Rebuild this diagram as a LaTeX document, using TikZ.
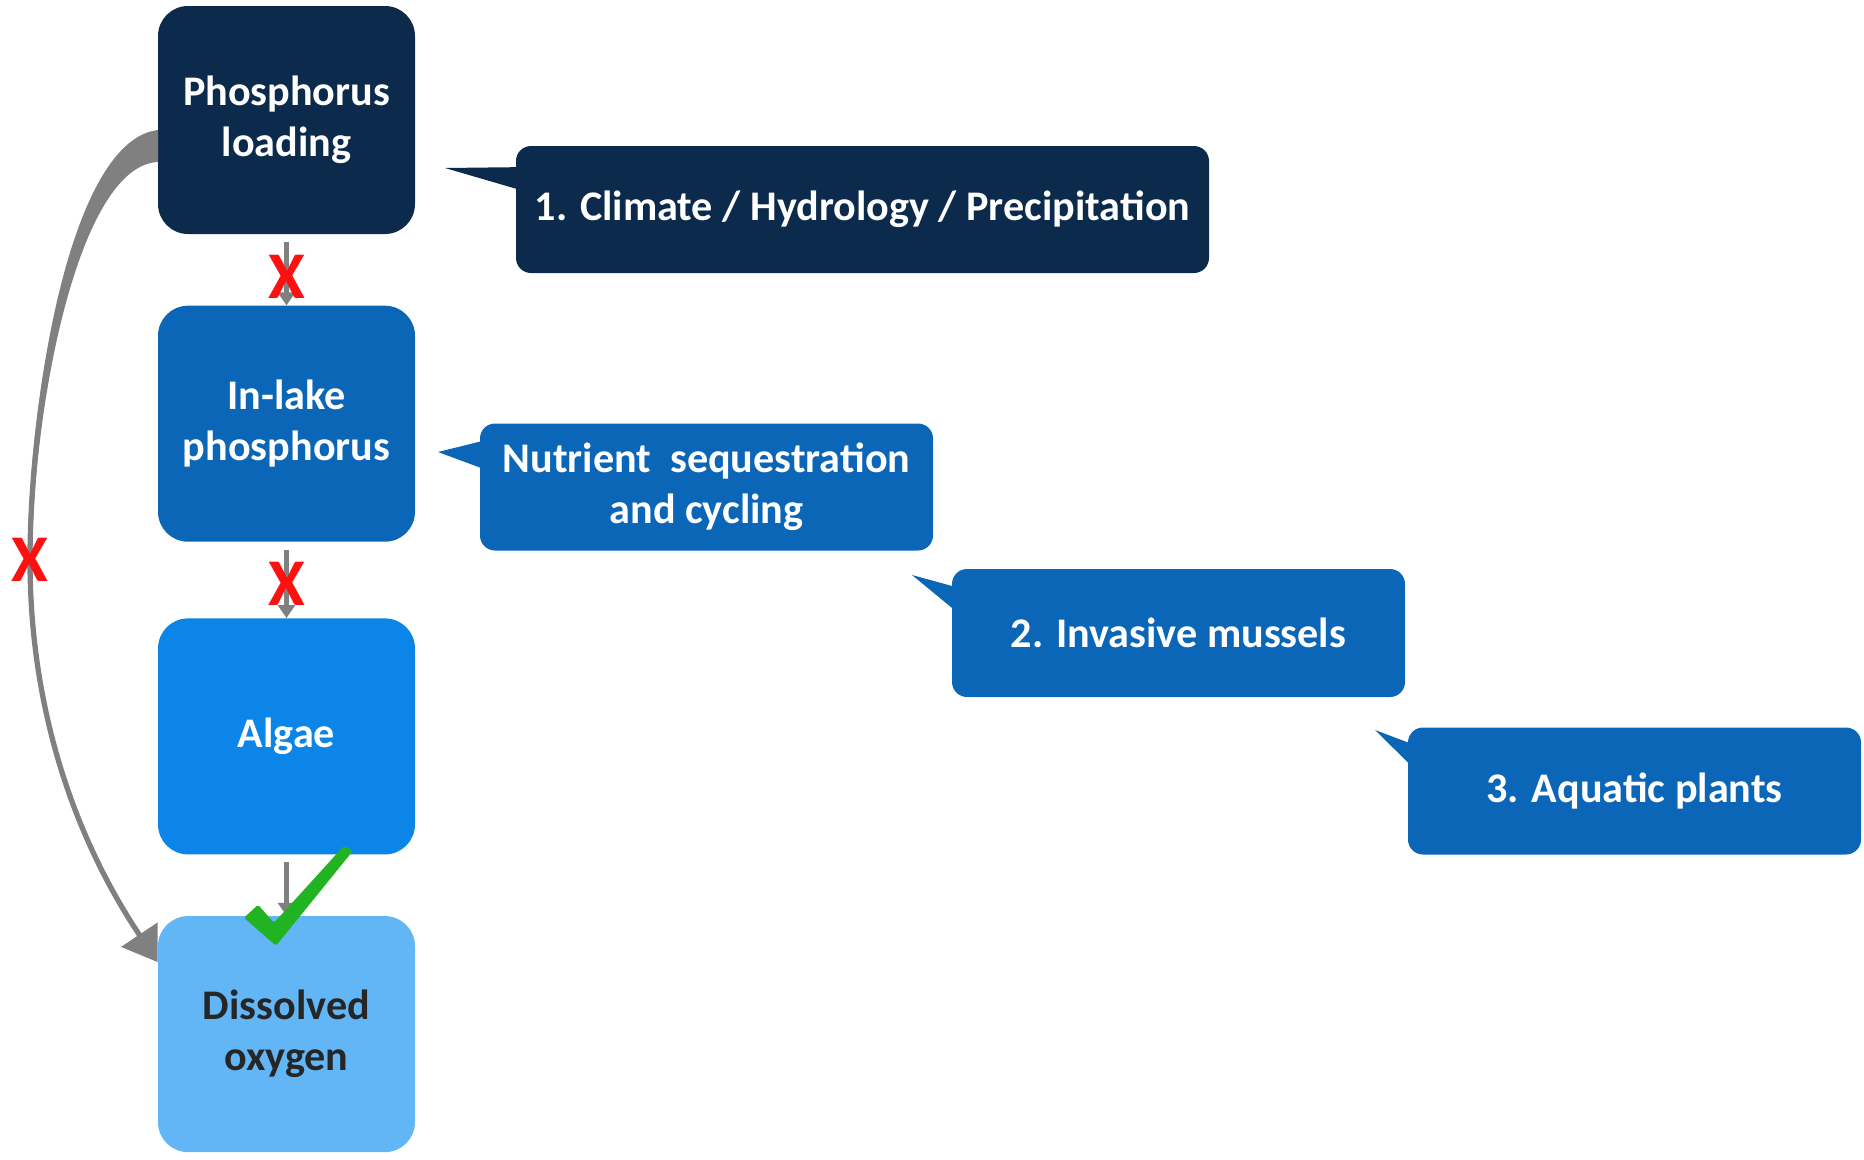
\documentclass[tikz,border=0pt]{standalone}
\usepackage{fontspec}
\setmainfont{Carlito}
\usetikzlibrary{arrows.meta, positioning}

\definecolor{navy}{HTML}{0C2A4C}
\definecolor{midblue}{HTML}{0B66B8}
\definecolor{brightblue}{HTML}{0B86E8}
\definecolor{paleblue}{HTML}{62B6F6}
\definecolor{linkgray}{HTML}{808080}
\definecolor{nored}{HTML}{FF1010}
\definecolor{okgreen}{HTML}{22B322}

\begin{document}
\begin{tikzpicture}[
  box/.style={rounded corners=0.6cm, align=center, minimum width=5.14cm, minimum height=4.72cm, text=white,
    font=\fontsize{24}{29}\selectfont\bfseries},
  tag/.style={rounded corners=0.3cm, align=center, minimum width=9.06cm, minimum height=2.54cm,
    text=white, font=\fontsize{24}{29}\selectfont\bfseries},
  link/.style={-{Triangle[length=0.26cm, width=0.34cm]}, linkgray, line width=3pt, shorten <=0.15cm},
  bypass/.style={-{Triangle[length=0.66cm, width=0.85cm]}, linkgray, line width=3pt},
  nomark/.style={text=nored, inner sep=0pt, font=\fontsize{38}{38}\selectfont\bfseries}
]
\useasboundingbox (0,0) rectangle (37.28,-23.2);

% chain on the left
\node[box, fill=navy, minimum height=4.56cm] (p_load) at (5.73,-2.40) {Phosphorus\\loading};
\node[box, fill=midblue, below=1.42cm of p_load] (in_lake) {In-lake\\phosphorus};
\node[box, fill=brightblue, below=1.52cm of in_lake] (algae) {Algae};
\node[box, fill=paleblue, text=black!85, below=1.22cm of algae] (d_oxy) {Dissolved\\oxygen};

% callouts
\node[tag, fill=navy, minimum width=13.86cm] (c_climate) at (17.25,-4.19)
  {1. Climate / Hydrology / Precipitation};
\node[tag, fill=midblue] (c_nutrient) at (14.13,-9.74) {Nutrient\ \ sequestration\\and cycling};
\node[tag, fill=midblue, minimum height=2.56cm] (c_mussels) at (23.57,-12.66) {2. Invasive mussels};
\node[tag, fill=midblue] (c_plants) at (32.69,-15.82) {3. Aquatic plants};

% callout pointers
\coordinate (t_climate) at (8.90,-3.36);
\coordinate (t_nutrient) at (8.76,-9.04);
\coordinate (t_mussels) at (18.24,-11.50);
\coordinate (t_plants) at (27.50,-14.60);
\fill[navy] (t_climate) -- ([shift={(0.3,0.85)}]c_climate.west) -- ([shift={(0.3,0.33)}]c_climate.west) -- cycle;
\fill[midblue] (t_nutrient) -- ([shift={(0.3,0.98)}]c_nutrient.west) -- ([shift={(0.3,0.28)}]c_nutrient.west) -- cycle;
\fill[midblue] (t_mussels) -- ([shift={(0.3,0.86)}]c_mussels.west) -- ([shift={(0.3,0.26)}]c_mussels.west) -- cycle;
\fill[midblue] (t_plants) -- ([shift={(0.3,0.86)}]c_plants.west) -- ([shift={(0.3,0.28)}]c_plants.west) -- cycle;

% links
\draw[link] (p_load) -- node[nomark, pos=0.6] (x_one) {X} (in_lake);
\draw[link] (in_lake) -- node[nomark, pos=0.55] (x_two) {X} (algae);
\draw[link] (algae) -- (d_oxy);

% bypass from loading straight to oxygen
\fill[linkgray] (3.16,-2.60) .. controls (1.40,-2.80) and (0.56,-8.0) .. (0.56,-11.2)
  -- (0.64,-11.2) .. controls (0.66,-8.0) and (1.60,-3.30) .. (3.16,-3.24) -- cycle;
\draw[bypass] ([yshift=-0.52cm]p_load.west) .. controls +(-1.66,-0.12) and +(0,3.2) ..
  (0.6,-11.2) node[nomark] (x_three) {X}
  .. controls +(0,-3.2) and +(-1.54,2.3) .. ([yshift=1.44cm]d_oxy.west);

% check mark
\fill[okgreen, rounded corners=1pt, shift={(d_oxy.north)}]
  (-0.85,-0.04) -- (-0.57,0.22) -- (-0.25,-0.14) -- (1.15,1.40) -- (1.33,1.30) -- (-0.21,-0.60) -- cycle;
\end{tikzpicture}
\end{document}
